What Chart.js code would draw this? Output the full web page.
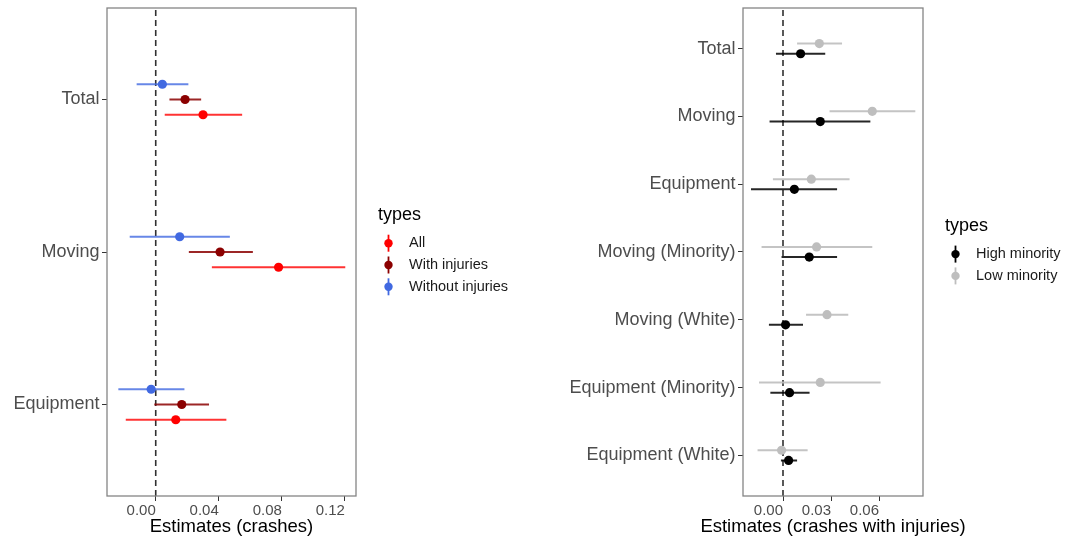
<!DOCTYPE html>
<html>
<head>
<meta charset="utf-8">
<script src="https://cdn.jsdelivr.net/npm/chart.js@4.4.1/dist/chart.umd.min.js"></script>
<style>
  body { margin: 0; background: #fff; }
  #wrap { position: relative; width: 1067px; height: 540px; }
  canvas { position: absolute; top: 0; }
</style>
</head>
<body>
<div id="wrap">
  <canvas id="crashChart" width="540" height="540" style="left:0"></canvas>
  <canvas id="injuryChart" width="527" height="540" style="left:540px"></canvas>
</div>
<script>
// ---- left panel: crashes ----
const crashCategories = ['Total', 'Moving', 'Equipment'];
const crashTicks = [0, 0.04, 0.08, 0.12];

const allEst = [0.0300, 0.0779, 0.0127];
const allLo  = [0.0057, 0.0356, -0.0190];
const allHi  = [0.0548, 0.1202, 0.0448];

const injEst = [0.0186, 0.0408, 0.0165];
const injLo  = [0.0087, 0.0210, -0.0009];
const injHi  = [0.0288, 0.0616, 0.0338];

const noInjEst = [0.0042, 0.0152, -0.0029];
const noInjLo  = [-0.0121, -0.0165, -0.0237];
const noInjHi  = [0.0207, 0.0470, 0.0182];

// ---- right panel: crashes with injuries ----
const injuryCategories = ['Total', 'Moving', 'Equipment', 'Moving (Minority)',
    'Moving (White)', 'Equipment (Minority)', 'Equipment (White)'];
const injuryTicks = [0, 0.03, 0.06];

const highEst = [0.0110, 0.0233, 0.0071, 0.0164, 0.0016, 0.0041, 0.0035];
const highLo  = [-0.0044, -0.0084, -0.0200, -0.0009, -0.0088, -0.0079, -0.0013];
const highHi  = [0.0264, 0.0546, 0.0338, 0.0338, 0.0125, 0.0166, 0.0088];

const lowEst = [0.0227, 0.0558, 0.0177, 0.0210, 0.0275, 0.0233, -0.0009];
const lowLo  = [0.0088, 0.0291, -0.0063, -0.0134, 0.0144, -0.0150, -0.0159];
const lowHi  = [0.0369, 0.0827, 0.0416, 0.0558, 0.0408, 0.0610, 0.0154];

const FONT = "'Liberation Sans', Arial, sans-serif";

// panel border drawn on top of the data, like ggplot's panel.border
const panelBorder = {
    id: 'panelBorder',
    afterDatasetsDraw(chart) {
        const a = chart.chartArea;
        const ctx = chart.ctx;
        ctx.save();
        ctx.strokeStyle = '#858585';
        ctx.lineWidth = 1.3;
        ctx.strokeRect(a.left, a.top, a.right - a.left, a.bottom - a.top);
        ctx.restore();
    }
};

// x axis title; the scale's own title would be squeezed to the panel width
const axisTitle = {
    id: 'axisTitle',
    afterDraw(chart, args, opts) {
        const a = chart.chartArea;
        const ctx = chart.ctx;
        ctx.save();
        ctx.font = '18.5px ' + FONT;
        ctx.fillStyle = '#000';
        ctx.textAlign = 'center';
        ctx.textBaseline = 'middle';
        ctx.fillText(opts.text, (a.left + a.right) / 2, a.bottom + 31);
        ctx.restore();
    }
};

// ggplot-ish legend: title, then pointrange keys
const typesLegend = {
    id: 'typesLegend',
    afterDraw(chart, args, opts) {
        const ctx = chart.ctx;
        const a = chart.chartArea;
        const items = opts.items;
        const sp = 21.8, titleGap = 28;
        const centre = (a.top + a.bottom) / 2 - 1;
        const titleY = centre - ((items.length - 1) * sp + titleGap) / 2;
        const x0 = a.right + 22;
        ctx.save();
        ctx.textBaseline = 'middle';
        ctx.textAlign = 'left';
        ctx.fillStyle = '#000';
        ctx.font = '18px ' + FONT;
        ctx.fillText('types', x0, titleY);
        ctx.font = '14.5px ' + FONT;
        items.forEach((it, i) => {
            const y = titleY + titleGap + i * sp;
            const sx = x0 + 10.5;
            ctx.strokeStyle = it.color;
            ctx.lineWidth = 1.8;
            ctx.beginPath();
            ctx.moveTo(sx, y - 8.5);
            ctx.lineTo(sx, y + 8.5);
            ctx.stroke();
            ctx.fillStyle = it.color;
            ctx.beginPath();
            ctx.arc(sx, y, 4.2, 0, Math.PI * 2);
            ctx.fill();
            ctx.fillStyle = '#1a1a1a';
            ctx.fillText(it.label, x0 + 31, y);
        });
        ctx.restore();
    }
};

function makePanel(canvasId, categories, series, cfg) {
    const n = categories.length;
    const yMin = 0.4, yMax = n + 0.6;
    const datasets = [];

    // dashed reference line at zero
    datasets.push({
        data: [{ x: 0, y: yMin }, { x: 0, y: yMax }],
        showLine: true,
        borderColor: '#303030',
        borderWidth: 1.6,
        borderDash: [6, 4],
        pointRadius: 0,
        order: 3
    });

    series.forEach(s => {
        const bars = [];
        const pts = [];
        categories.forEach((c, i) => {
            const y = n - i + s.offset;
            bars.push({ x: s.lo[i], y: y }, { x: s.hi[i], y: y }, { x: null, y: null });
            pts.push({ x: s.est[i], y: y });
        });
        datasets.push({
            label: s.label + ' interval',
            data: bars,
            showLine: true,
            spanGaps: false,
            borderColor: s.lineColor,
            borderWidth: 2,
            pointRadius: 0,
            order: 2
        });
        datasets.push({
            label: s.label,
            data: pts,
            pointRadius: 4.6,
            pointBackgroundColor: s.color,
            pointBorderWidth: 0,
            order: 1
        });
    });

    return new Chart(document.getElementById(canvasId), {
        type: 'scatter',
        data: { datasets: datasets },
        options: {
            responsive: false,
            animation: false,
            devicePixelRatio: 1,
            layout: { autoPadding: false, padding: { top: 8, right: cfg.padRight, bottom: 0, left: 0 } },
            plugins: {
                legend: { display: false },
                tooltip: { enabled: false },
                axisTitle: { text: cfg.xTitle },
                typesLegend: { items: series.map(s => ({ label: s.label, color: s.color })) }
            },
            scales: {
                x: {
                    type: 'linear',
                    min: cfg.xMin,
                    max: cfg.xMax,
                    afterBuildTicks: scale => { scale.ticks = cfg.xTicks.map(v => ({ value: v })); },
                    afterFit: scale => {
                        scale.height = 44;
                        scale.paddingLeft = 0;
                        scale.paddingRight = 0;
                    },
                    border: { display: false },
                    grid: { drawOnChartArea: false, drawTicks: true, tickLength: 5, color: '#333333' },
                    ticks: {
                        align: 'end',
                        padding: 1,
                        color: '#4d4d4d',
                        font: { family: FONT, size: 15 },
                        callback: v => v.toFixed(2)
                    }
                },
                y: {
                    type: 'linear',
                    min: yMin,
                    max: yMax,
                    afterBuildTicks: scale => {
                        scale.ticks = categories.map((c, i) => ({ value: n - i }));
                    },
                    afterFit: scale => {
                        scale.width = cfg.yWidth;
                        scale.paddingTop = 0;
                        scale.paddingBottom = 0;
                    },
                    border: { display: false },
                    grid: { drawOnChartArea: false, drawTicks: true, tickLength: 5, color: '#333333' },
                    ticks: {
                        padding: 2.5,
                        color: '#4d4d4d',
                        font: { family: FONT, size: 18 },
                        callback: v => categories[n - v]
                    }
                }
            }
        },
        plugins: [panelBorder, axisTitle, typesLegend]
    });
}

makePanel('crashChart', crashCategories, [
    { label: 'All', color: '#ff0000', lineColor: 'rgba(255,0,0,0.8)', est: allEst, lo: allLo, hi: allHi, offset: -0.1 },
    { label: 'With injuries', color: '#8b0000', lineColor: 'rgba(139,0,0,0.85)', est: injEst, lo: injLo, hi: injHi, offset: 0 },
    { label: 'Without injuries', color: '#4169e1', lineColor: 'rgba(65,105,225,0.8)', est: noInjEst, lo: noInjLo, hi: noInjHi, offset: 0.1 }
], {
    xMin: -0.0309, xMax: 0.1270, xTicks: crashTicks,
    xTitle: 'Estimates (crashes)', yWidth: 107, padRight: 184
});

makePanel('injuryChart', injuryCategories, [
    { label: 'High minority', color: '#000000', lineColor: 'rgba(0,0,0,0.85)', est: highEst, lo: highLo, hi: highHi, offset: -0.075 },
    { label: 'Low minority', color: '#bebebe', lineColor: 'rgba(190,190,190,0.9)', est: lowEst, lo: lowLo, hi: lowHi, offset: 0.075 }
], {
    xMin: -0.0250, xMax: 0.0875, xTicks: injuryTicks,
    xTitle: 'Estimates (crashes with injuries)', yWidth: 203, padRight: 144
});
</script>
</body>
</html>
